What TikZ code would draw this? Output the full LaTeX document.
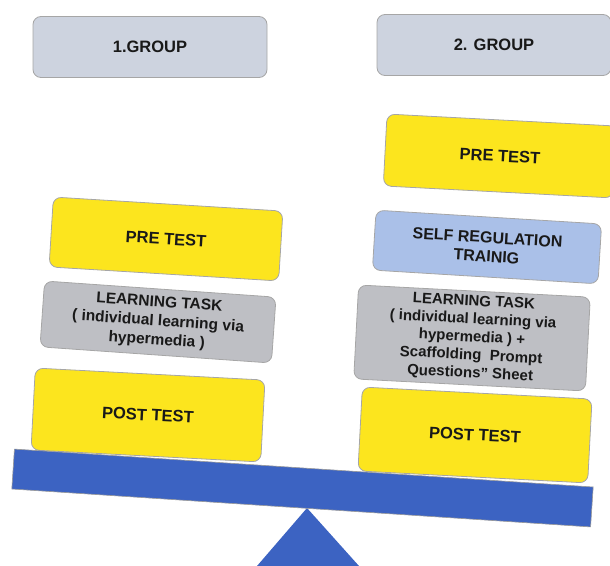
\documentclass[tikz,border=0pt]{standalone}
\usepackage{fontspec}
\setmainfont{Liberation Sans}
\begin{document}
\begin{tikzpicture}[x=1pt,y=-1pt,
  box/.style={draw=black!35,line width=0.8pt,rounded corners=8pt,align=center,
    text=black!90,font=\fontsize{16.5}{19}\selectfont\bfseries,inner sep=2pt},
  grp/.style={box,fill=grpc,minimum width=234pt,minimum height=61pt},
  yel/.style={box,fill=yelc,minimum width=230pt},
  gry/.style={box,fill=gryc,minimum width=232pt},
  blu/.style={box,fill=bluc,minimum width=226pt,minimum height=60pt}]
\definecolor{grpc}{HTML}{CDD3DF}
\definecolor{yelc}{HTML}{FCE51E}
\definecolor{gryc}{HTML}{BEBFC4}
\definecolor{bluc}{HTML}{AAC0E8}
\definecolor{beamc}{HTML}{3C63C2}
\useasboundingbox (0,0) rectangle (610,565);
\clip (0,0) rectangle (610,565);
% group headers
\node[grp] (g1) at (150,47) {1.GROUP};
\node[grp] (g2) at (494,45) {2. GROUP};
% group 1
\node[yel,minimum height=70pt,rotate=-3.5] (pre1) at (166,239) {PRE TEST};
\node[gry,minimum height=66pt,rotate=-4,font=\fontsize{15.5}{19}\selectfont\bfseries] (lt1) at (158,322) {LEARNING TASK\\( individual learning via\\hypermedia )};
\node[yel,minimum height=82pt,rotate=-3] (post1) at (148,415) {POST TEST};
% group 2
\node[yel,minimum height=72pt,rotate=-3] (pre2) at (500,156) {PRE TEST};
\node[blu,rotate=-3.5,font=\fontsize{16}{19}\selectfont\bfseries] (srt) at (487,247) {SELF REGULATION\\TRAINIG};
\node[gry,minimum height=94pt,rotate=-3,font=\fontsize{15}{18}\selectfont\bfseries] (lt2) at (472,338) {LEARNING TASK\\( individual learning via\\hypermedia ) +\\Scaffolding\ \ Prompt\\Questions'' Sheet};
\node[yel,minimum height=84pt,rotate=-3] (post2) at (475,435) {POST TEST};
% fulcrum and beam
\coordinate (apex) at (307,508);
\coordinate (bl) at (257,566);
\coordinate (br) at (359,566);
\fill[beamc] (apex) -- (br) -- (bl) -- cycle;
\node[draw=black!40,fill=beamc,line width=0.6pt,minimum width=580pt,minimum height=40pt,inner sep=0pt,rotate=-3.75] (beam) at (302.5,488) {};
\end{tikzpicture}
\end{document}
